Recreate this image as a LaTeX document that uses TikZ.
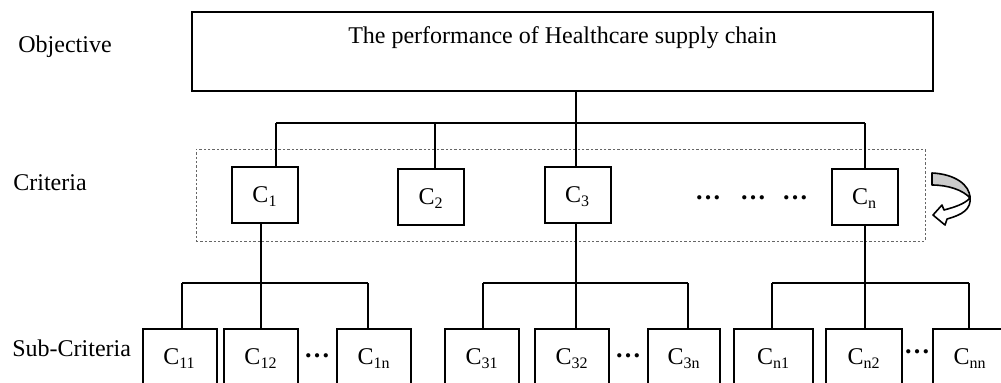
\documentclass[tikz,border=0pt]{standalone}
\usepackage{fontspec}
\setmainfont{Liberation Serif}
\begin{document}
\begin{tikzpicture}[x=0.5pt,y=-0.5pt,
  font=\fontsize{12}{14.4}\selectfont,
  box/.style={draw, line width=1pt, inner sep=0pt, outer sep=0pt,
    minimum width=33pt, minimum height=28pt, text height=7.9pt, text depth=0pt},
  subbox/.style={box, minimum width=37pt},
  dashbox/.style={draw=gray!80!black, line width=0.5pt, dash pattern=on 1.2pt off 1pt,
    inner sep=0pt, outer sep=0pt},
  wire/.style={line width=1pt},
  lab/.style={anchor=base west, inner sep=0pt},
  dotsnode/.style={inner sep=0pt, font=\fontsize{13}{15}\selectfont\bfseries}]
\useasboundingbox (0,0) rectangle (1001,382);
\clip (0,0) rectangle (1001,382);

% labels on the left
\node[lab] (lobj) at (18,52) {Objective};
\node[lab] (lcrit) at (13,190) {Criteria};
\node[lab] (lsub) at (12,356) {Sub-Criteria};

% objective
\node[box, minimum width=370.5pt, minimum height=39.5pt] (obj) at (562.5,51) {};
\node[anchor=base, inner sep=0pt] (objtxt) at (562.5,43) {The performance of Healthcare supply chain};

% criteria frame
\node[dashbox, minimum width=364.5pt, minimum height=46pt] (crit) at (560.5,195) {};

% criteria
\node[box] (c1) at (265,195) {C\textsubscript{1}};
\node[box] (c2) at (431,197) {C\textsubscript{2}};
\node[box] (c3) at (577.5,195) {C\textsubscript{3}};
\node[box] (cn) at (864.5,197) {C\textsubscript{n}};
\node[dotsnode] (d1) at (708,198) {…};
\node[dotsnode] (d2) at (753,198) {…};
\node[dotsnode] (d3) at (795,198) {…};

% top bus
\coordinate (bL) at (276,123);
\coordinate (b2) at (435,123);
\coordinate (bM) at (576,123);
\coordinate (bR) at (865,123);
\draw[wire] (obj.south -| bM) -- (bM);
\draw[wire] (bL) -- (bR);
\draw[wire] (bL) -- (bL |- c1.north);
\draw[wire] (b2) -- (b2 |- c2.north);
\draw[wire] (bM) -- (bM |- c3.north);
\draw[wire] (bR) -- (bR |- cn.north);

% sub-criteria
\node[subbox] (c11) at (179.5,357) {C\textsubscript{11}};
\node[subbox] (c12) at (261,357) {C\textsubscript{12}};
\node[subbox] (c1n) at (374,357) {C\textsubscript{1n}};
\node[subbox] (c31) at (482,357) {C\textsubscript{31}};
\node[subbox] (c32) at (572,357) {C\textsubscript{32}};
\node[subbox, minimum width=36pt] (c3n) at (684,357) {C\textsubscript{3n}};
\node[subbox, minimum width=39.5pt] (cn1) at (773.5,357) {C\textsubscript{n1}};
\node[subbox, minimum width=38pt] (cn2) at (864,357) {C\textsubscript{n2}};
\node[subbox] (cnn) at (970,357) {C\textsubscript{nn}};
\node[dotsnode] (e1) at (317,356) {…};
\node[dotsnode] (e2) at (628,356) {…};
\node[dotsnode] (e3) at (917,352) {…};

% sub buses
\coordinate (s1) at (261,283);
\coordinate (s1L) at (182,283);
\coordinate (s1R) at (368,283);
\draw[wire] (c1.south -| s1) -- (s1);
\draw[wire] (s1L) -- (s1R);
\draw[wire] (s1L) -- (s1L |- c11.north);
\draw[wire] (s1) -- (s1 |- c12.north);
\draw[wire] (s1R) -- (s1R |- c1n.north);

\coordinate (s3) at (576,283);
\coordinate (s3L) at (483,283);
\coordinate (s3R) at (688,283);
\draw[wire] (c3.south -| s3) -- (s3);
\draw[wire] (s3L) -- (s3R);
\draw[wire] (s3L) -- (s3L |- c31.north);
\draw[wire] (s3) -- (s3 |- c32.north);
\draw[wire] (s3R) -- (s3R |- c3n.north);

\coordinate (sn) at (865,283);
\coordinate (snL) at (772,283);
\coordinate (snR) at (969,283);
\draw[wire] (cn.south -| sn) -- (sn);
\draw[wire] (snL) -- (snR);
\draw[wire] (snL) -- (snL |- cn1.north);
\draw[wire] (sn) -- (sn |- cn2.north);
\draw[wire] (snR) -- (snR |- cnn.north);

% curved arrow
\filldraw[fill=gray!40, draw=black, line width=0.8pt, line join=round]
  (932,173) .. controls (955,174) and (970,185) .. (970,198)
  .. controls (963,190) and (948,185) .. (932,185) -- cycle;
\filldraw[fill=white, draw=black, line width=0.8pt, line join=round]
  (970,196) .. controls (972,210) and (961,215) .. (947,219)
  -- (945,225) -- (933,215) -- (942,205) -- (944,210)
  .. controls (955,207) and (964,204) .. (969,199) -- cycle;
\end{tikzpicture}
\end{document}
